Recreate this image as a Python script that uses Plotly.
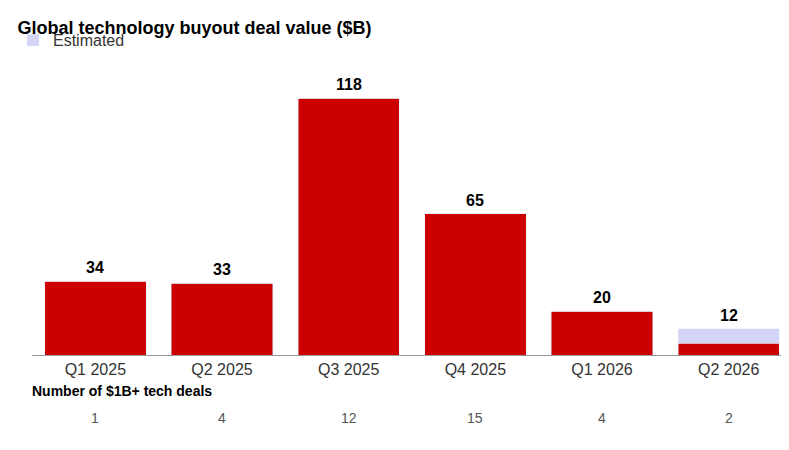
import plotly.graph_objects as go

quarters = ["Q1 2025", "Q2 2025", "Q3 2025", "Q4 2025", "Q1 2026", "Q2 2026"]
actual = [34, 33, 118, 65, 20, 5.5]
estimated = [0, 0, 0, 0, 0, 6.5]
totals = [34, 33, 118, 65, 20, 12]
deal_counts = [1, 4, 12, 15, 4, 2]

red = "#cc0000"
lav = "#d4d4f7"

fig = go.Figure()
fig.add_trace(go.Bar(x=quarters, y=actual, marker_color=red, showlegend=False,
                     hoverinfo="skip"))
fig.add_trace(go.Bar(x=quarters, y=estimated, marker_color=lav, name="Estimated",
                     hoverinfo="skip"))

# value labels above bars
for q, t in zip(quarters, totals):
    fig.add_annotation(x=q, y=t, yanchor="bottom", yshift=3, text="<b>%d</b>" % t,
                       showarrow=False, font=dict(size=16, color="black"))

for q, n in zip(quarters, deal_counts):
    fig.add_annotation(x=q, xref="x", y=-0.27, yref="paper", text=str(n), showarrow=False,
                       font=dict(size=14, color="#555555"))
fig.add_annotation(x=-0.002, xref="paper", y=-0.17, yref="paper", xanchor="left",
                   text="<b>Number of $1B+ tech deals</b>", showarrow=False,
                   font=dict(size=14, color="black"))

fig.update_layout(
    width=789, height=450,
    barmode="stack", bargap=0.2,
    title=dict(text="<b>Global technology buyout deal value ($B)</b>", x=0.012, y=0.97,
               xanchor="left", font=dict(size=18, color="black")),
    legend=dict(x=-0.025, y=1.22, xanchor="left", yanchor="top", orientation="h",
                font=dict(size=16, color="#333333")),
    margin=dict(l=5, r=5, t=75, b=103),
    plot_bgcolor="white", paper_bgcolor="white",
    font=dict(family="Liberation Sans, Arial", color="black"),
    xaxis=dict(showline=True, linecolor="#999999", linewidth=1, ticks="",
               tickfont=dict(size=16, color="#333333")),
    yaxis=dict(visible=False, range=[0, 125]),
)

fig.write_html("out.html")
